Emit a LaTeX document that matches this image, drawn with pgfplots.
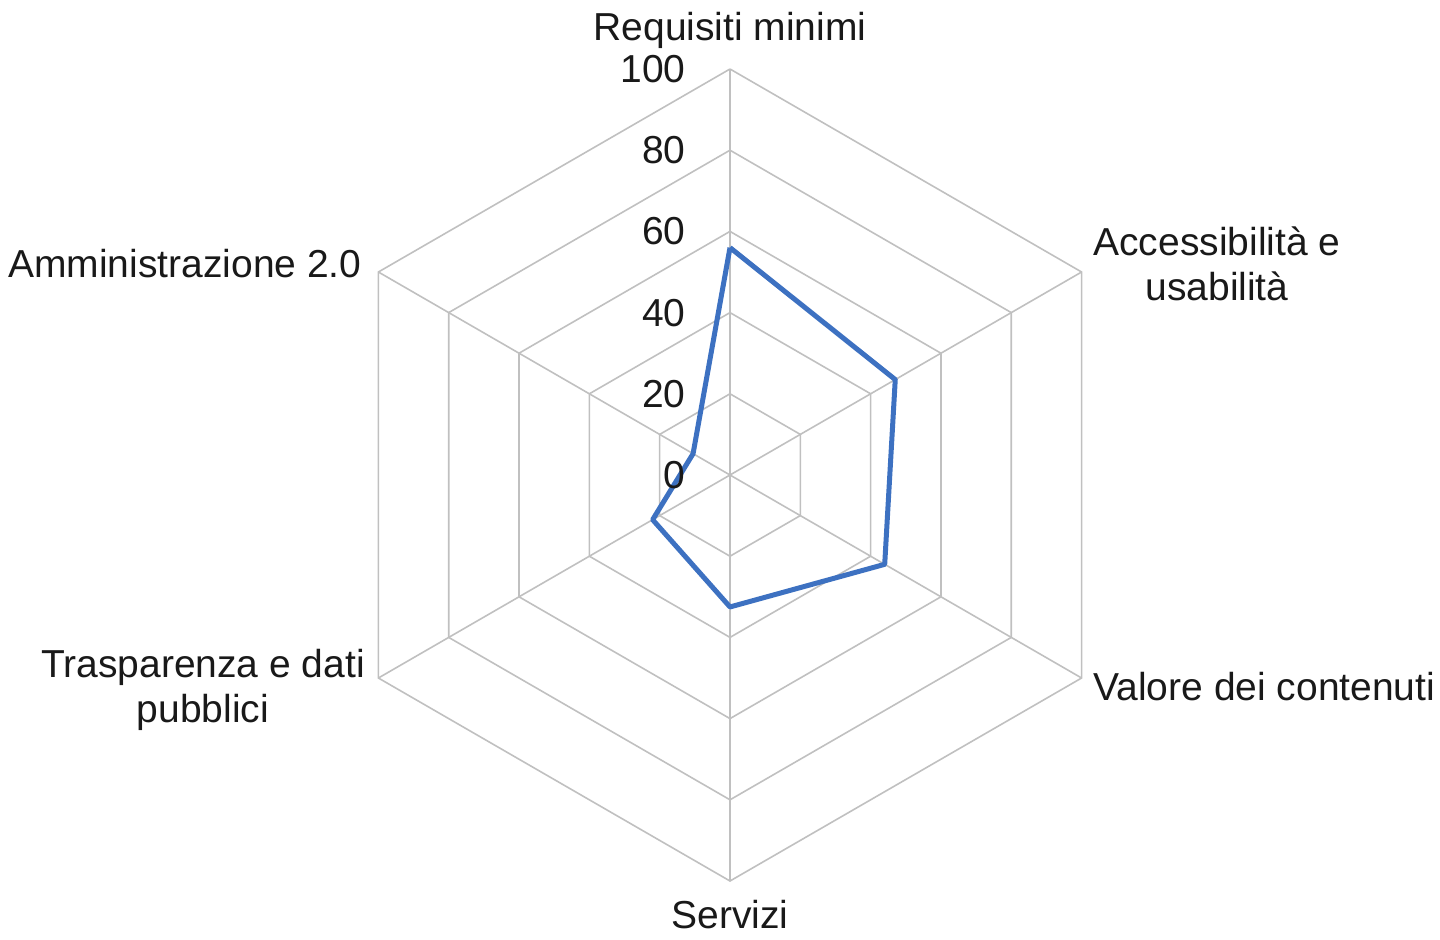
\documentclass[border=0pt]{standalone}
\usepackage{pgfplots}
\pgfplotsset{compat=1.18}
\usepgfplotslibrary{polar}
\usepackage{fontspec}
\setmainfont{Liberation Sans}
\definecolor{serie}{RGB}{61,113,193}
\definecolor{griglia}{RGB}{192,192,192}
\definecolor{testo}{RGB}{25,25,25}

\begin{document}
\begin{tikzpicture}[font=\fontsize{19.5}{22.5}\selectfont, text=testo]
\begin{polaraxis}[
    width=406pt, height=406pt,
    scale only axis,
    xmin=0, xmax=360, ymin=0, ymax=100,
    axis line style={draw=none},
    xtick=\empty, ytick=\empty,
    clip=false,
]
% griglia esagonale
\foreach \r in {20,40,60,80,100} {
  \edef\temp{\noexpand\addplot[griglia, line width=0.8pt, forget plot]
    coordinates {(90,\r) (30,\r) (-30,\r) (-90,\r) (-150,\r) (150,\r) (90,\r)};}
  \temp
}
\addplot[griglia, line width=0.8pt, forget plot] coordinates {(90,0) (90,100)};
\addplot[griglia, line width=0.8pt, forget plot] coordinates {(30,0) (30,100)};
\addplot[griglia, line width=0.8pt, forget plot] coordinates {(-30,0) (-30,100)};
\addplot[griglia, line width=0.8pt, forget plot] coordinates {(-90,0) (-90,100)};
\addplot[griglia, line width=0.8pt, forget plot] coordinates {(-150,0) (-150,100)};
\addplot[griglia, line width=0.8pt, forget plot] coordinates {(150,0) (150,100)};

% dati
\addplot[serie, line width=2.5pt, line join=round] coordinates {
  (90,56) (30,47) (-30,44) (-90,32.5) (-150,22) (150,10.5) (90,56)
};

\coordinate (c) at (axis cs:0,0);
\end{polaraxis}

% etichette dei valori
\foreach \v in {0,20,40,60,80,100} {
  \node[anchor=east, inner sep=0pt] at ([shift={(-22pt,2.03pt*\v)}]c) {\v};
}

% etichette delle categorie
\node[inner sep=0pt] at ([shift={(0pt,222.5pt)}]c) {Requisiti minimi};
\node[inner sep=0pt, align=center] at ([shift={(243.5pt,105.5pt)}]c) {Accessibilità e\\usabilità};
\node[inner sep=0pt, anchor=west] at ([shift={(181.5pt,-106pt)}]c) {Valore dei contenuti};
\node[inner sep=0pt] at ([shift={(0pt,-220pt)}]c) {Servizi};
\node[inner sep=0pt, align=center] at ([shift={(-263.5pt,-107.5pt)}]c) {Trasparenza e dati\\pubblici};
\node[inner sep=0pt, anchor=east] at ([shift={(-184pt,105.5pt)}]c) {Amministrazione 2.0};

\path ([shift={(-365pt,-232pt)}]c) rectangle ([shift={(355pt,237.5pt)}]c);
\end{tikzpicture}
\end{document}
